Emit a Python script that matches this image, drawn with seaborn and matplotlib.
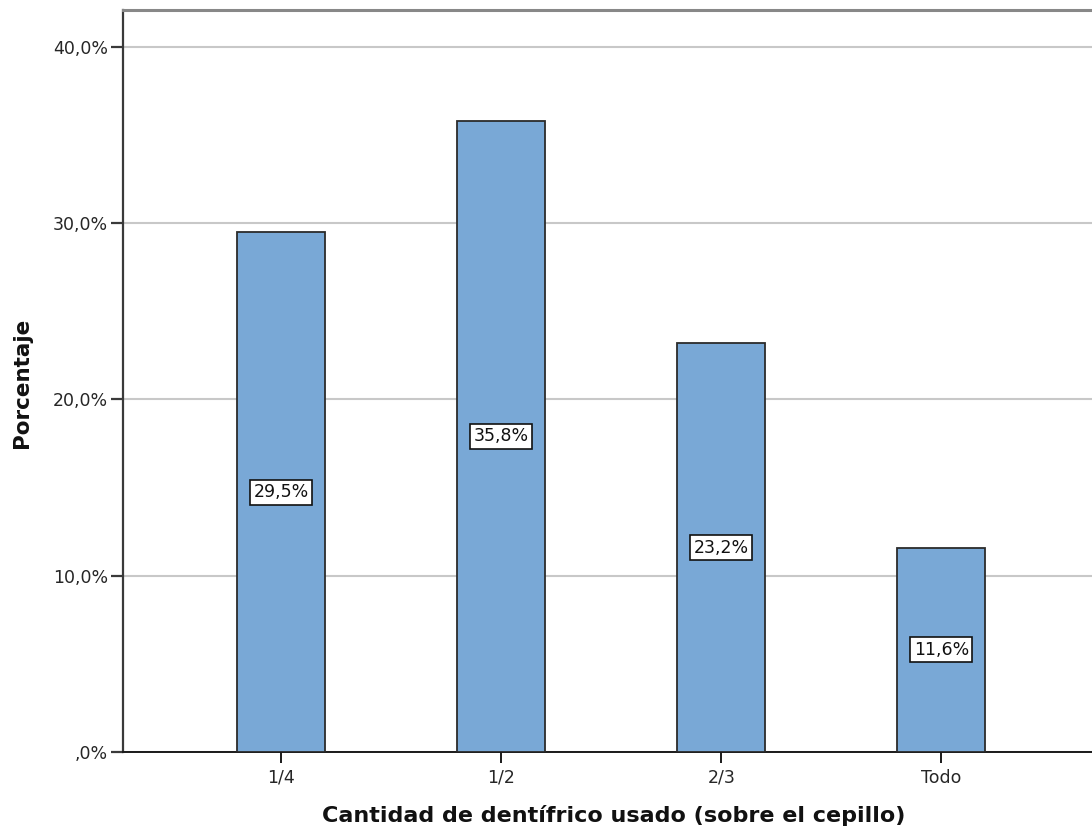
import matplotlib
matplotlib.use("Agg")
import matplotlib.pyplot as plt
import seaborn as sns
import pandas as pd

categories = ["1/4", "1/2", "2/3", "Todo"]
percentages = [29.5, 35.8, 23.2, 11.6]
value_labels = ["29,5%", "35,8%", "23,2%", "11,6%"]
y_ticks = [0, 10, 20, 30, 40]
y_tick_labels = [",0%", "10,0%", "20,0%", "30,0%", "40,0%"]

sns.set_theme(style="white")
plt.rcParams["font.family"] = ["DejaVu Sans"]

df = pd.DataFrame({"cat": categories, "pct": percentages})

fig = plt.figure(figsize=(10.92, 8.32), dpi=100)
ax = fig.add_axes([122.7 / 1092, (832 - 752.3) / 832, 1 - 122.7 / 1092, (752.3 - 9.5) / 832])

sns.barplot(data=df, x="cat", y="pct", order=categories, color="#79A8D6",
            saturation=1, width=0.4, edgecolor="#2b2b2b", linewidth=1.3, ax=ax, zorder=3)

ax.set_xlim(-0.72, 3.685)
ax.set_ylim(0, 42.1)
ax.set_yticks(y_ticks)
ax.set_yticklabels(y_tick_labels)

ax.yaxis.grid(True, color="#c8c8c8", linewidth=1.5, zorder=0)
ax.xaxis.grid(False)
ax.set_axisbelow(True)

ax.spines["right"].set_visible(False)
ax.spines["top"].set_color("#888888")
ax.spines["top"].set_linewidth(2.2)
ax.spines["left"].set_color("#3a3a3a")
ax.spines["left"].set_linewidth(1.6)
ax.spines["bottom"].set_color("#1a1a1a")
ax.spines["bottom"].set_linewidth(1.4)

ax.tick_params(axis="y", which="major", direction="out", length=8.5, width=1.6,
               color="#3a3a3a", labelsize=12.5, labelcolor="#262626", pad=2, left=True)
ax.tick_params(axis="x", which="major", direction="out", length=8, width=1.4,
               color="#1a1a1a", labelsize=12.5, labelcolor="#262626", pad=4, bottom=True)

for i, (v, lab) in enumerate(zip(percentages, value_labels)):
    ax.text(i, v / 2, lab, ha="center", va="center", fontsize=12.5, color="#111111",
            zorder=5,
            bbox=dict(boxstyle="square,pad=0.2", facecolor="white", edgecolor="#111111", linewidth=1.2))

ax.set_xlabel("Cantidad de dentífrico usado (sobre el cepillo)", fontsize=16,
              fontweight="bold", color="#111111")
ax.xaxis.set_label_coords((614 - 122.7) / 969.3, -(816 - 752.3) / 742.8)
ax.xaxis.label.set_va("center")
ax.set_ylabel("Porcentaje", fontsize=15.5, fontweight="bold", color="#111111")
ax.yaxis.set_label_coords((22 - 122.7) / 969.3, (752.3 - 383) / 742.8)
ax.yaxis.label.set_va("center")

fig.savefig("out.png", dpi=100)
